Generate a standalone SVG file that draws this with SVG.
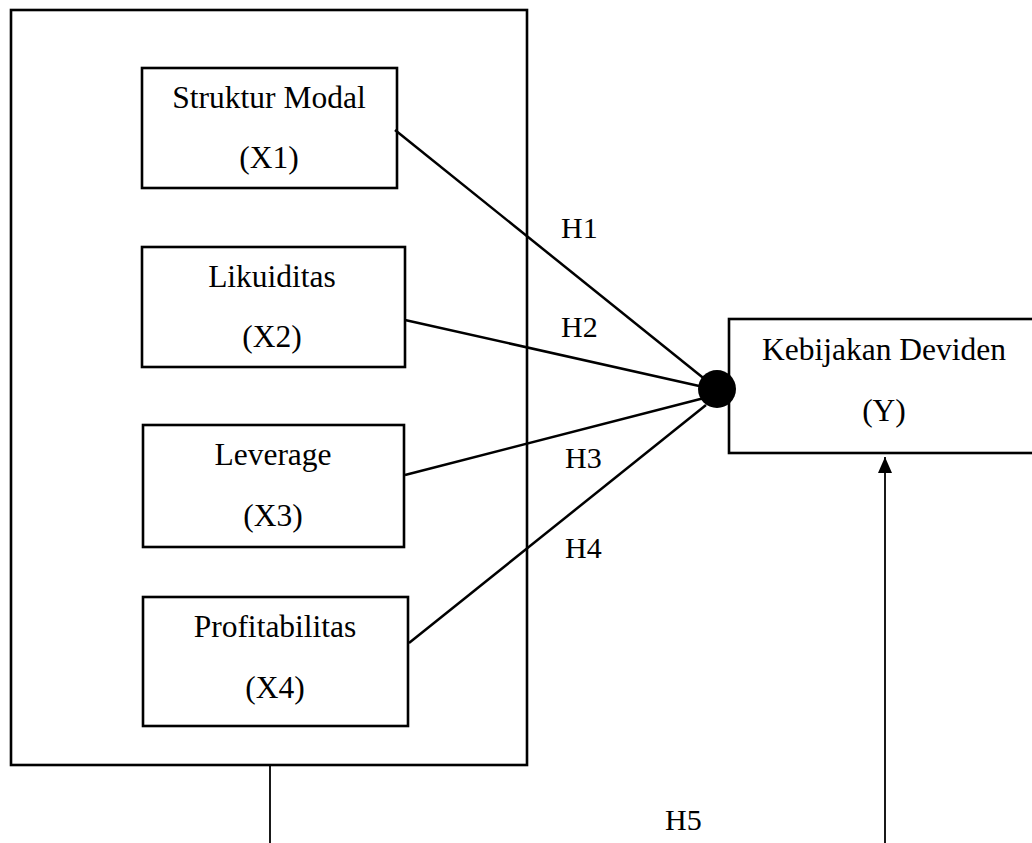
<svg xmlns="http://www.w3.org/2000/svg" width="1032" height="843" viewBox="0 0 1032 843">
<style>
.box{fill:#fff;stroke:#000;stroke-width:2.6}
.t{font-family:"Liberation Serif","Times New Roman",serif;font-size:31.5px;fill:#000;text-anchor:middle}
.h{font-family:"Liberation Serif","Times New Roman",serif;font-size:30px;fill:#000}
.ln{stroke:#000;stroke-width:2.5;fill:none}
.thin{stroke:#000;stroke-width:1.8;fill:none}
</style>
<defs>
<marker id="arr" markerWidth="16" markerHeight="14" refX="16" refY="7" orient="auto" markerUnits="userSpaceOnUse" viewBox="0 0 16 14">
<path d="M0,0 L16,7 L0,14 Z" fill="#000"/>
</marker>
<linearGradient id="fade" x1="0" y1="0" x2="1" y2="0">
<stop offset="0" stop-color="#333"/>
<stop offset="1" stop-color="#fff"/>
</linearGradient>
</defs>
<rect id="outer" class="box" x="11" y="10" width="516" height="755"/>
<g id="x1"><rect class="box" x="142" y="68" width="255" height="120"/><text class="t" x="269" y="108">Struktur Modal</text><text class="t" x="269" y="168">(X1)</text></g>
<g id="x2"><rect class="box" x="142" y="247" width="263" height="120"/><text class="t" x="272" y="287">Likuiditas</text><text class="t" x="272" y="347">(X2)</text></g>
<g id="x3"><rect class="box" x="143" y="425" width="261" height="122"/><text class="t" x="273" y="465">Leverage</text><text class="t" x="273" y="526">(X3)</text></g>
<g id="x4"><rect class="box" x="143" y="597" width="265" height="129"/><text class="t" x="275" y="637">Profitabilitas</text><text class="t" x="275" y="698">(X4)</text></g>
<g id="y"><rect class="box" x="729" y="319" width="320" height="134"/><text class="t" x="884" y="360">Kebijakan Deviden</text><text class="t" x="884" y="421">(Y)</text></g>
<g id="connectors">
<line class="ln" x1="395" y1="130" x2="717" y2="389"/>
<line class="ln" x1="405" y1="320" x2="717" y2="390"/>
<line class="ln" x1="405" y1="475" x2="712" y2="396"/>
<line class="ln" x1="409" y1="643" x2="706" y2="405"/>
<circle cx="717" cy="389" r="19" fill="#000"/>
<line class="thin" x1="270" y1="765" x2="270" y2="843"/>
<line x1="270" y1="841.5" x2="400" y2="841.5" stroke="url(#fade)" stroke-width="2"/>
<line class="thin" x1="885" y1="843" x2="885" y2="457" marker-end="url(#arr)"/>
</g>
<g id="labels">
<text class="h" x="561" y="238">H1</text>
<text class="h" x="561" y="337">H2</text>
<text class="h" x="565" y="468">H3</text>
<text class="h" x="565" y="558">H4</text>
<text class="h" x="665" y="830">H5</text>
</g>
</svg>
